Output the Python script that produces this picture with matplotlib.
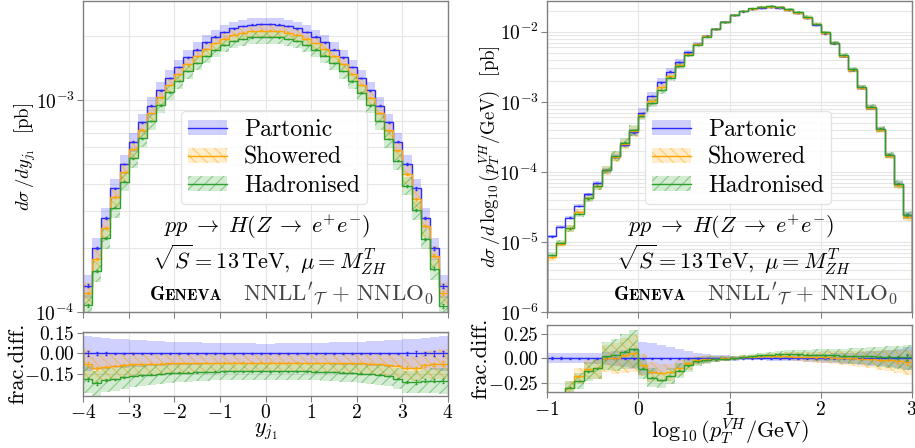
import numpy as np
import matplotlib
matplotlib.use("Agg")
import matplotlib.pyplot as plt
from matplotlib.patches import Patch
from matplotlib.lines import Line2D

plt.rcParams.update({
    'font.family': 'serif',
    'font.serif': ['cmr10'],
    'mathtext.fontset': 'cm',
    'axes.formatter.use_mathtext': True,
    'axes.unicode_minus': True,
    'hatch.linewidth': 0.8,
})

# ---------------- left panel: rapidity of leading jet ----------------
y_edges = np.linspace(-4, 4, 41)
y_partonic = [1.33e-4, 2.0e-4, 2.77e-4, 3.83e-4, 4.99e-4, 6.35e-4, 7.85e-4, 9.4e-4,
              1.11e-3, 1.27e-3, 1.43e-3, 1.59e-3, 1.73e-3, 1.87e-3, 1.99e-3, 2.09e-3,
              2.18e-3, 2.23e-3, 2.27e-3, 2.28e-3,
              2.28e-3, 2.27e-3, 2.23e-3, 2.18e-3, 2.09e-3, 1.99e-3, 1.87e-3, 1.73e-3,
              1.59e-3, 1.43e-3, 1.27e-3, 1.11e-3, 9.4e-4, 7.85e-4, 6.35e-4, 4.99e-4,
              3.83e-4, 2.77e-4, 2.0e-4, 1.33e-4]
y_showered_fd = [-0.075, -0.11, -0.10, -0.09, -0.085, -0.08, -0.078, -0.076, -0.074, -0.072,
                 -0.071, -0.07, -0.07, -0.069, -0.069, -0.068, -0.068, -0.068, -0.068, -0.068,
                 -0.068, -0.068, -0.068, -0.068, -0.069, -0.069, -0.07, -0.07, -0.071, -0.072,
                 -0.073, -0.075, -0.077, -0.085, -0.09, -0.105, -0.11, -0.085, -0.08, -0.075]
y_hadronised_fd = [-0.19, -0.22, -0.195, -0.19, -0.175, -0.165, -0.16, -0.155, -0.15, -0.145,
                   -0.142, -0.14, -0.138, -0.136, -0.134, -0.132, -0.131, -0.13, -0.13, -0.13,
                   -0.13, -0.13, -0.13, -0.131, -0.132, -0.133, -0.135, -0.137, -0.14, -0.143,
                   -0.147, -0.15, -0.155, -0.165, -0.185, -0.21, -0.21, -0.2, -0.2, -0.2]
y_part_unc = [0.125, 0.12, 0.115, 0.11, 0.105, 0.10, 0.097, 0.094, 0.091, 0.088,
              0.085, 0.083, 0.081, 0.079, 0.077, 0.076, 0.075, 0.074, 0.074, 0.073,
              0.073, 0.074, 0.074, 0.075, 0.076, 0.077, 0.079, 0.081, 0.083, 0.085,
              0.088, 0.091, 0.094, 0.097, 0.10, 0.105, 0.11, 0.115, 0.12, 0.125]
y_shower_unc = [0.12, 0.115, 0.11, 0.105, 0.10, 0.095, 0.09, 0.087, 0.084, 0.081,
                0.079, 0.077, 0.076, 0.075, 0.074, 0.073, 0.072, 0.072, 0.071, 0.071,
                0.071, 0.071, 0.072, 0.072, 0.073, 0.074, 0.075, 0.076, 0.077, 0.079,
                0.081, 0.084, 0.087, 0.09, 0.095, 0.10, 0.105, 0.11, 0.115, 0.12]
y_stat = [0.015, 0.012, 0.008, 0.006, 0.005, 0.004, 0.004, 0.003, 0.003, 0.003,
          0.003, 0.003, 0.003, 0.003, 0.003, 0.003, 0.003, 0.003, 0.003, 0.003,
          0.003, 0.003, 0.003, 0.003, 0.003, 0.003, 0.003, 0.003, 0.003, 0.003,
          0.003, 0.003, 0.003, 0.004, 0.005, 0.012, 0.015, 0.012, 0.015, 0.02]

# ---------------- right panel: log10 pT of VH system ----------------
p_edges = np.linspace(-1, 3, 41)
p_partonic = [1.2e-5, 1.64e-5, 2.23e-5, 3.27e-5, 4.8e-5, 6.97e-5, 1.05e-4, 1.64e-4, 2.45e-4, 3.65e-4,
              6.97e-4, 1.2e-3, 1.89e-3, 2.71e-3, 3.73e-3, 5.07e-3, 6.74e-3, 8.67e-3, 1.1e-2, 1.39e-2,
              1.75e-2, 1.95e-2, 2.11e-2, 2.2e-2, 2.23e-2, 2.18e-2, 2.02e-2, 1.83e-2, 1.57e-2, 1.26e-2,
              9.47e-3, 6.81e-3, 4.49e-3, 2.83e-3, 1.6e-3, 8.3e-4, 4.07e-4, 1.73e-4, 6.67e-5, 2.4e-5]
p_showered_fd = [-0.50, -0.43, -0.30, -0.18, -0.11, -0.10, 0.0, 0.0, 0.03, 0.05,
                 -0.07, -0.14, -0.15, -0.14, -0.10, -0.05, -0.02, -0.01, -0.005, 0.0,
                 0.005, 0.01, 0.015, 0.02, 0.02, 0.02, 0.02, 0.018, 0.015, 0.012,
                 0.01, 0.008, 0.005, 0.0, -0.005, -0.01, -0.015, -0.02, -0.03, -0.04]
p_hadronised_fd = [-0.46, -0.41, -0.30, -0.23, -0.13, -0.10, 0.02, 0.035, 0.07, 0.095,
                   -0.105, -0.195, -0.22, -0.18, -0.125, -0.07, -0.03, -0.015, -0.01, -0.005,
                   0.0, 0.01, 0.02, 0.03, 0.035, 0.04, 0.042, 0.04, 0.038, 0.035,
                   0.032, 0.03, 0.028, 0.025, 0.022, 0.02, 0.018, 0.015, 0.01, 0.01]
p_part_unc = [0.05, 0.05, 0.05, 0.05, 0.055, 0.06, 0.07, 0.08, 0.09, 0.11,
              0.17, 0.16, 0.14, 0.12, 0.10, 0.08, 0.06, 0.045, 0.035, 0.03,
              0.025, 0.02, 0.02, 0.02, 0.022, 0.025, 0.028, 0.03, 0.035, 0.04,
              0.045, 0.05, 0.055, 0.06, 0.07, 0.075, 0.08, 0.09, 0.10, 0.12]
p_shower_unc = [0.10, 0.10, 0.10, 0.10, 0.11, 0.12, 0.14, 0.16, 0.17, 0.18,
                0.12, 0.12, 0.11, 0.10, 0.09, 0.07, 0.05, 0.04, 0.03, 0.025,
                0.02, 0.02, 0.02, 0.025, 0.03, 0.035, 0.04, 0.045, 0.05, 0.055,
                0.06, 0.065, 0.07, 0.075, 0.08, 0.09, 0.10, 0.11, 0.12, 0.13]
p_stat = [0.01, 0.01, 0.008, 0.006, 0.005, 0.005, 0.004, 0.004, 0.004, 0.004,
          0.003, 0.003, 0.003, 0.003, 0.003, 0.003, 0.003, 0.003, 0.003, 0.003,
          0.003, 0.003, 0.003, 0.003, 0.003, 0.003, 0.003, 0.003, 0.003, 0.003,
          0.003, 0.003, 0.003, 0.004, 0.005, 0.006, 0.008, 0.01, 0.015, 0.03]

series_names = ['Partonic', 'Showered', 'Hadronised']
colors = {'Partonic': '#2a2aff', 'Showered': '#ffa500', 'Hadronised': '#2ca02c'}
hatches = {'Partonic': None, 'Showered': '\\\\\\', 'Hadronised': '///'}

GRID = '#e6e6e6'
SPINE = '#808080'


def rgba(c, a):
    r, g, b, _ = matplotlib.colors.to_rgba(c)
    return (r, g, b, a)


def style_axes(ax):
    for s in ax.spines.values():
        s.set_color(SPINE)
        s.set_linewidth(1.0)
    ax.tick_params(which='major', direction='out', length=4, color=SPINE, labelsize=14, pad=2)
    ax.tick_params(which='minor', length=0)
    ax.grid(True, which='both', color=GRID, lw=0.8)
    ax.set_axisbelow(True)


def band(ax, edges, lo, hi, name):
    c = colors[name]
    if hatches[name] is None:
        ax.stairs(hi, edges, baseline=lo, fill=True, color=rgba(c, 0.22), lw=0)
    else:
        ax.stairs(hi, edges, baseline=lo, fill=True, facecolor=rgba(c, 0.2),
                  edgecolor=rgba(c, 0.45), hatch=hatches[name], lw=0)


def panel(fig, rect_main, rect_ratio, edges, partonic, show_fd, hadr_fd, part_unc, shower_unc, stat,
          ylim, rlim, rticks, xticks, ylabel, xlabel, ylab_x, rlab_x):
    edges = np.asarray(edges)
    centers = 0.5 * (edges[1:] + edges[:-1])
    part = np.asarray(partonic)
    vals = {'Partonic': part,
            'Showered': part * (1 + np.asarray(show_fd)),
            'Hadronised': part * (1 + np.asarray(hadr_fd))}
    uncs = {'Partonic': np.asarray(part_unc),
            'Showered': np.asarray(shower_unc),
            'Hadronised': np.asarray(shower_unc)}
    stat = np.asarray(stat)

    ax = fig.add_axes(rect_main)
    rx = fig.add_axes(rect_ratio)
    for a in (ax, rx):
        style_axes(a)

    for n in series_names:
        v, u = vals[n], uncs[n]
        band(ax, edges, v * (1 - u), v * (1 + u), n)
        band(rx, edges, v * (1 - u) / part - 1, v * (1 + u) / part - 1, n)
    for n in series_names:
        v = vals[n]
        c = colors[n]
        ax.stairs(v, edges, color=c, lw=1.0)
        ax.errorbar(centers, v, yerr=v * stat, fmt='none', ecolor=c, elinewidth=0.6, capsize=1.0)
        r = v / part - 1
        rx.stairs(r, edges, color=c, lw=1.0)
        rx.errorbar(centers, r, yerr=(r + 1) * stat, fmt='none', ecolor=c, elinewidth=0.6, capsize=1.0)

    ax.set_yscale('log')
    ax.set_ylim(*ylim)
    ax.set_xlim(edges[0], edges[-1])
    ax.set_xticks(xticks)
    ax.tick_params(labelbottom=False)
    ax.set_ylabel(ylabel, fontsize=13.5)
    ax.yaxis.set_label_coords(ylab_x, 0.5)

    rx.set_xlim(edges[0], edges[-1])
    rx.set_ylim(*rlim)
    rx.set_xticks(xticks)
    rx.set_xticklabels(['$%d$' % t if t >= 0 else '$-%d$' % (-t) for t in xticks])
    rx.set_yticks(rticks)
    rx.set_yticklabels(['$%.2f$' % t if t >= 0 else '$-%.2f$' % (-t) for t in rticks])
    rx.set_ylabel('frac.diff.', fontsize=16)
    rx.yaxis.set_label_coords(rlab_x, 0.5)
    rx.set_xlabel(xlabel, fontsize=16, labelpad=-1)

    handles = []
    for n in series_names:
        c = colors[n]
        if hatches[n] is None:
            p = Patch(facecolor=rgba(c, 0.22), edgecolor='none')
        else:
            p = Patch(facecolor=rgba(c, 0.2), edgecolor=rgba(c, 0.45), hatch=hatches[n], lw=0)
        handles.append((p, Line2D([], [], color=c, lw=1.0)))
    leg = ax.legend(handles, series_names, loc='upper left', bbox_to_anchor=(0.268, 0.646),
                    borderaxespad=0, fontsize=17, handlelength=1.65, handleheight=0.55,
                    handletextpad=0.7, labelspacing=0.25, borderpad=0.32,
                    framealpha=0.85, fancybox=True)
    leg.get_frame().set_edgecolor('#e0e0e0')

    ax.text(0.503, 0.273, r'$pp \;\to\; H(Z \;\to\; e^{+}e^{-})$', transform=ax.transAxes,
            ha='center', va='center', fontsize=16)
    ax.text(0.51, 0.167, r'$\sqrt{S} = 13\,\mathrm{TeV},\ \mu = M^{T}_{ZH}$',
            transform=ax.transAxes, ha='center', va='center', fontsize=16)
    ax.text(0.1836, 0.0386, 'G', transform=ax.transAxes, ha='left', va='baseline',
            fontsize=14, family='cmb10')
    ax.text(0.2225, 0.0386, 'ENEVA', transform=ax.transAxes, ha='left', va='baseline',
            fontsize=11.5, family='cmb10')
    ax.text(0.438, 0.0386, r"$\mathrm{NNLL}'_{\mathcal{T}} \,+\, \mathrm{NNLO}_{0}$",
            transform=ax.transAxes, ha='left', va='baseline', fontsize=16.5, color='#444444')
    return ax, rx


fig = plt.figure(figsize=(9.15, 4.48), dpi=100)
W, H = 915.0, 448.0

panel(fig,
      [83 / W, 1 - 312 / H, 365 / W, 311 / H],
      [83 / W, 1 - 395.7 / H, 365 / W, 64 / H],
      y_edges, y_partonic, y_showered_fd, y_hadronised_fd, y_part_unc, y_shower_unc, y_stat,
      (1e-4, 2.93e-3), (-0.31, 0.16), [-0.15, 0.0, 0.15], [-4, -3, -2, -1, 0, 1, 2, 3, 4],
      r'$d\sigma\,/dy_{j_1}\;\;\;[\mathrm{pb}]$', r'$y_{j_1}$', -0.123, -0.153)

panel(fig,
      [547 / W, 1 - 312 / H, 365 / W, 311 / H],
      [547 / W, 1 - 392.3 / H, 365 / W, 67.3 / H],
      p_edges, p_partonic, p_showered_fd, p_hadronised_fd, p_part_unc, p_shower_unc, p_stat,
      (1e-6, 2.75e-2), (-0.345, 0.34), [-0.25, 0.0, 0.25], [-1, 0, 1, 2, 3],
      r'$d\sigma\,/d\,\log_{10}(p_T^{VH}/\mathrm{GeV})\;\;\;[\mathrm{pb}]$',
      r'$\log_{10}(p_T^{VH}/\mathrm{GeV})$', -0.123, -0.156)

fig.savefig('out.png', dpi=100)
